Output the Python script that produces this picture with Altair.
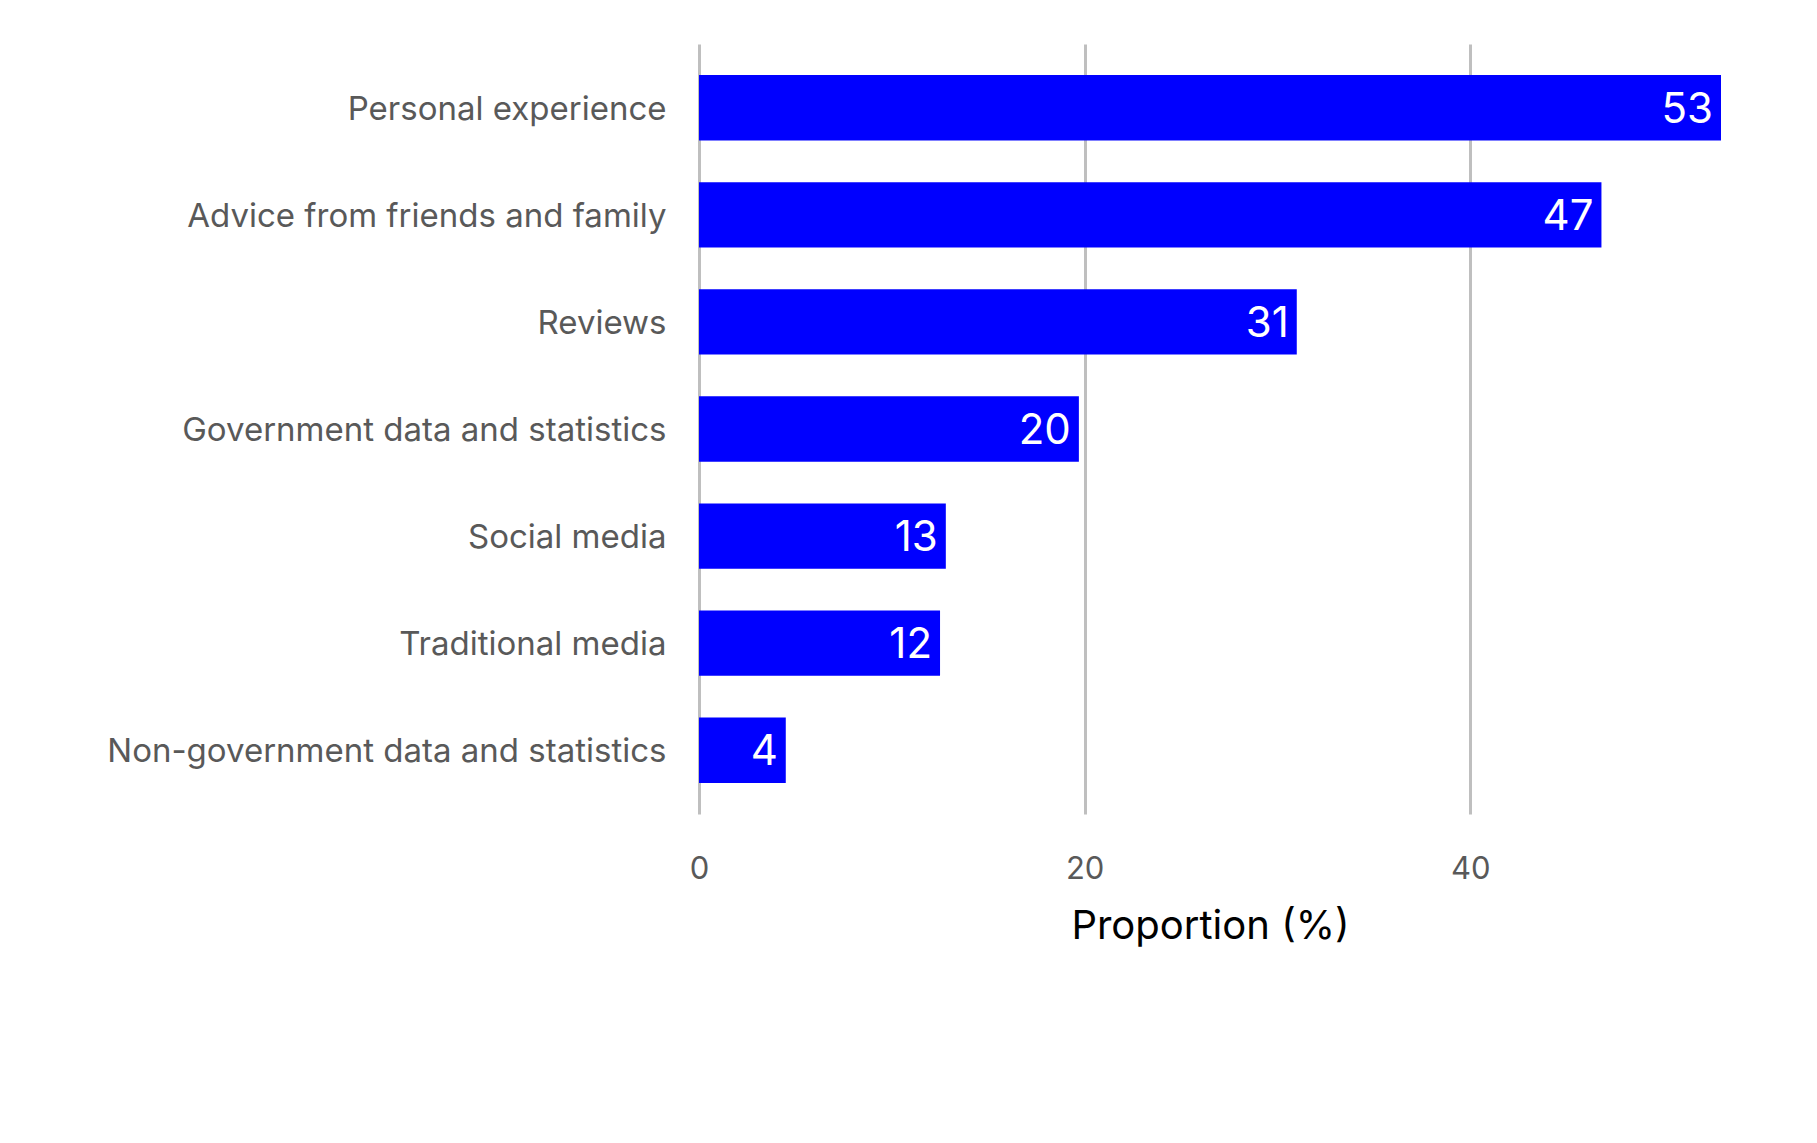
import pandas as pd
import altair as alt

# Sources of information, top to bottom
sources = [
    "Personal experience",
    "Advice from friends and family",
    "Reviews",
    "Government data and statistics",
    "Social media",
    "Traditional media",
    "Non-government data and statistics",
]
proportion = [53.0, 46.8, 31.0, 19.7, 12.8, 12.5, 4.5]
value_labels = ["53", "47", "31", "20", "13", "12", "4"]

df = pd.DataFrame({"source": sources, "proportion": proportion, "label": value_labels})

FONT = "Inter"

y_enc = alt.Y(
    "source:N",
    sort=sources,
    title=None,
    scale=alt.Scale(paddingInner=0.39, paddingOuter=0.29),
    axis=alt.Axis(
        ticks=False,
        domain=False,
        labelPadding=33,
        labelFontSize=33,
        labelColor="#595959",
        labelFont=FONT,
        labelLimit=800,
        labelOffset=2,
    ),
)

x_enc = alt.X(
    "proportion:Q",
    title="Proportion (%)",
    scale=alt.Scale(domain=[0, 53.0], nice=False),
    axis=alt.Axis(
        values=[0, 20, 40],
        ticks=False,
        domain=False,
        grid=True,
        gridColor="#bfbfbf",
        gridWidth=3,
        labelFlush=False,
        labelPadding=40,
        labelFontSize=31,
        labelColor="#595959",
        labelFont=FONT,
        titleFontSize=40,
        titleColor="#000000",
        titleFont=FONT,
        titleFontWeight="normal",
        titlePadding=22,
    ),
)

bars = alt.Chart(df).mark_bar(color="#0000ff").encode(x=x_enc, y=y_enc)

text = alt.Chart(df).mark_text(
    align="right", baseline="middle", dx=-8, dy=2, color="white", fontSize=42, font=FONT
).encode(x="proportion:Q", y=alt.Y("source:N", sort=sources), text="label:N")

chart = (
    alt.layer(bars, text)
    .properties(
        width=1022,
        height=770,
        autosize=alt.AutoSizeParams(type="none"),
        padding={"left": 691, "top": 36, "right": 80, "bottom": 200},
    )
    .configure(background="white")
    .configure_view(stroke=None)
)

chart.save("out.html", embed_options={"renderer": "svg", "actions": False})
